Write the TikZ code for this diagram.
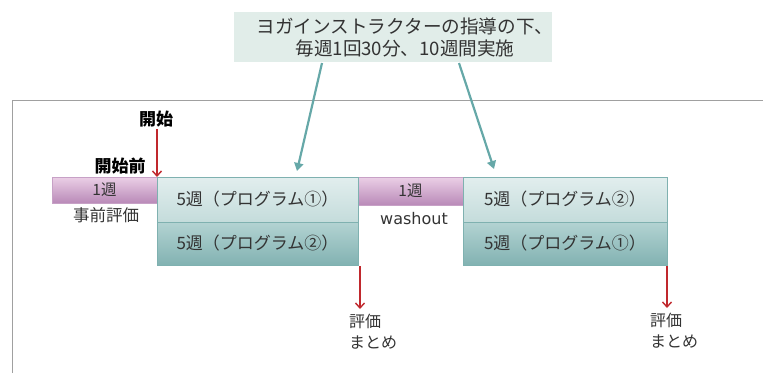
\documentclass[tikz,border=0pt]{standalone}
\usepackage{fontspec}
\setmainfont{Noto Sans CJK JP}
\newfontfamily\latinfont{DejaVu Sans}
\usetikzlibrary{arrows.meta,positioning}
\definecolor{pinkT}{HTML}{EBCFE6}
\definecolor{pinkB}{HTML}{B98AB8}
\definecolor{tealT1}{HTML}{E2EEEE}
\definecolor{tealB1}{HTML}{C4DCDB}
\definecolor{tealT2}{HTML}{B3D3D2}
\definecolor{tealB2}{HTML}{82B2B2}
\definecolor{tealline}{HTML}{7FB1B0}
\definecolor{arrowteal}{HTML}{66A8A8}
\definecolor{topfill}{HTML}{E1EDE9}
\definecolor{redarrow}{HTML}{C0282D}
\definecolor{framegray}{HTML}{A0A0A0}
\definecolor{txt}{HTML}{333333}
\tikzset{
  base/.style={inner sep=0pt, outer sep=0pt, anchor=north west, text=txt},
  pinkbar/.style={base, top color=pinkT, bottom color=pinkB, draw=pinkB!80, line width=0.6pt,
    font=\fontsize{15.5}{17}\selectfont},
  prog1/.style={base, top color=tealT1, bottom color=tealB1, draw=tealline, line width=0.8pt,
    font=\fontsize{17}{19}\selectfont},
  prog2/.style={base, top color=tealT2, bottom color=tealB2, draw=tealline, line width=0.8pt,
    font=\fontsize{17}{19}\selectfont},
  label/.style={inner sep=0pt, text=txt, font=\fontsize{16.5}{21}\selectfont},
  boldlabel/.style={inner sep=0pt, text=black, font=\fontsize{17}{19}\selectfont\bfseries},
  redarr/.style={draw=redarrow, line width=1.4pt, -{Straight Barb[length=5pt,width=9pt]}},
  tealarr/.style={draw=arrowteal, line width=2.2pt, -{Triangle[length=8pt,width=9pt]}},
}
\begin{document}
\begin{tikzpicture}[x=1pt,y=-1pt]
\useasboundingbox (0,0) rectangle (763,373);
% frame
\draw[framegray, line width=1pt] (12,373) -- (12,100) -- (763,100);
% top note
\node[base, fill=topfill, minimum width=318pt, minimum height=50pt] (note) at (234,12) {};
\node[inner sep=0pt, text=txt, align=center, font=\fontsize{18.6}{22}\selectfont]
  (notetext) at ([xshift=12pt]note.center)
  {ヨガインストラクターの指導の下、\\毎週1回30分、10週間実施};
% pink bars
\node[pinkbar, minimum width=105pt, minimum height=26pt] (pre) at (52,177) {1週};
\node[pinkbar, minimum width=105pt, minimum height=28pt] (wash) at (358,177) {1週};
% program boxes
\node[prog1, minimum width=201pt, minimum height=45pt] (a1) at (157,177) {5週（プログラム①）};
\node[prog2, minimum width=201pt, minimum height=43pt] (a2) at (157,222) {5週（プログラム②）};
\node[prog1, minimum width=204pt, minimum height=45pt] (b1) at (463,177) {5週（プログラム②）};
\node[prog2, minimum width=204pt, minimum height=43pt] (b2) at (463,222) {5週（プログラム①）};
% labels
\node[label] (jizen) at (106,215) {事前評価};
\node[label, font=\latinfont\fontsize{16}{19}\selectfont] (washlbl) at (414,219) {washout};
\node[boldlabel] (kaishimae) at (120,166) {開始前};
\node[boldlabel] (kaishi) at (156,119) {開始};
\node[label, anchor=north west, align=left, font=\fontsize{16}{21}\selectfont] (eval1) at (349,314) {評価\\まとめ};
\node[label, anchor=north west, align=left, font=\fontsize{16}{21}\selectfont] (eval2) at (650,313) {評価\\まとめ};
% coordinates
\coordinate (s0) at (157,129);
\coordinate (e1s) at (360,266);
\coordinate (e1e) at (360,309);
\coordinate (e2s) at (667,266);
\coordinate (e2e) at (667,308);
\coordinate (t1s) at (322,63);
\coordinate (t1e) at (297,171);
\coordinate (t2s) at (459,63);
\coordinate (t2e) at (494,169);
% red arrows
\draw[redarr] (s0) -- (a1.north west);
\draw[redarr] (e1s) -- (e1e);
\draw[redarr] (e2s) -- (e2e);
% teal arrows
\draw[tealarr] (t1s) -- (t1e);
\draw[tealarr] (t2s) -- (t2e);
\end{tikzpicture}
\end{document}
